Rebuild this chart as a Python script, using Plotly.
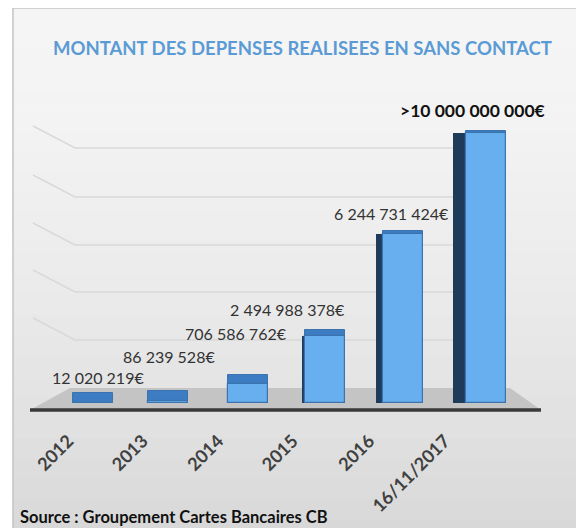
import plotly.graph_objects as go

categories = ["2012", "2013", "2014", "2015", "2016", "16/11/2017"]
values = [12020219, 86239528, 706586762, 2494988378, 6244731424, 10000000000]
labels = ["12 020 219€", "86 239 528€", "706 586 762€", "2 494 988 378€", "6 244 731 424€", ">10 000 000 000€"]

# styling (pixels)
label_xshift = [8, 0, -11, -38, -13, -10]
label_yshift = [25, 44, 50, 26, 21, 23]
label_bold = [False, False, False, False, False, True]
top_depth_px = [10, 10, 9, 6, 3, 2]
side_w_px = [0, 0, 0, 3, 7, 13]
bar_shift_px = [3, -1, 1, -1, -1, 3]
tick_shift_px = [-22, -26, -29, -33, -35, -38]

W, H = 584, 528
OFF = 8  # page body margin
L, R, T, B = 51, 522, 106, 403  # target screen coords of plot area
YMAX = 11e9
unit_px = (R - L) / 6.0
val_per_px = YMAX / (B - T)

def px(x):
    return (x - L) / (R - L)

def py(y):
    return (B - y) / (B - T)

idx = list(range(len(categories)))
front_w = 0.51
front_off = [-front_w / 2 + s / unit_px for s in bar_shift_px]

fig = go.Figure()

# dark side faces
fig.add_trace(go.Bar(
    x=idx, y=values,
    width=[s / unit_px if s else 0.001 for s in side_w_px],
    offset=[o - s / unit_px for o, s in zip(front_off, side_w_px)],
    marker=dict(color="#1f3b5c", line=dict(width=0)),
    hoverinfo="skip", showlegend=False,
))
# top faces
fig.add_trace(go.Bar(
    x=idx, y=[d * val_per_px for d in top_depth_px], base=values,
    width=front_w, offset=front_off,
    marker=dict(color="#3d7cc2", line=dict(color="#3a73ad", width=1)),
    hoverinfo="skip", showlegend=False,
))
# front faces
fig.add_trace(go.Bar(
    x=idx, y=values, width=front_w, offset=front_off,
    marker=dict(color="#68aff0", line=dict(color="#3a73ad", width=1.2)),
    showlegend=False,
))

shapes = []
# frame background with a soft vertical gradient
top_c, bot_c = (245, 245, 245), (216, 216, 216)
n_bands = 26
y_top, y_bot = 8, 540
for k in range(n_bands):
    f = (k / (n_bands - 1)) ** 1.6
    c = tuple(int(round(a + (b - a) * f)) for a, b in zip(top_c, bot_c))
    y0 = y_top + (y_bot - y_top) * k / n_bands
    y1 = y_top + (y_bot - y_top) * (k + 1) / n_bands
    shapes.append(dict(type="rect", xref="paper", yref="paper", layer="below",
                       x0=px(13), x1=px(580), y0=py(y0), y1=py(y1 + 0.5),
                       fillcolor=f"rgb{c}", line=dict(width=0)))
shapes.append(dict(type="rect", xref="paper", yref="paper", layer="below",
                   x0=px(13), x1=px(580), y0=py(8), y1=py(580),
                   fillcolor="rgba(0,0,0,0)", line=dict(color="#c4c4c4", width=1.5)))
for gy in [148, 197, 245, 292, 340]:
    shapes.append(dict(type="path", xref="paper", yref="paper", layer="below",
                       path=f"M {px(33)},{py(gy-22)} L {px(75)},{py(gy)} L {px(505)},{py(gy)}",
                       line=dict(color="#d9d9d9", width=1.5)))
shapes.append(dict(type="path", xref="paper", yref="paper", layer="below",
                   path=f"M {px(30)},{py(410)} L {px(70)},{py(388)} L {px(510)},{py(388)} L {px(541)},{py(410)} Z",
                   fillcolor="#c4c4c4", line=dict(width=0)))
shapes.append(dict(type="line", xref="paper", yref="paper", layer="below",
                   x0=px(30), x1=px(541), y0=py(410), y1=py(410),
                   line=dict(color="#3a3a3a", width=3.5)))

annotations = []
for i, (v, t) in enumerate(zip(values, labels)):
    annotations.append(dict(
        x=i, y=v, xref="x", yref="y", text=f"<b>{t}</b>" if label_bold[i] else t,
        showarrow=False, xanchor="center", yanchor="middle",
        xshift=label_xshift[i], yshift=label_yshift[i],
        font=dict(family="Lato", size=17.5 if label_bold[i] else 16,
                  color="#111111" if label_bold[i] else "#333333"),
    ))
annotations.append(dict(
    x=px(302), y=py(48), xref="paper", yref="paper",
    text="<b>MONTANT DES DEPENSES REALISEES EN SANS CONTACT</b>",
    showarrow=False, xanchor="center", yanchor="middle",
    font=dict(family="Lato", size=18.5, color="#5b9bd5"),
))
annotations.append(dict(
    x=px(18), y=py(517), xref="paper", yref="paper",
    text="<b>Source : Groupement Cartes Bancaires CB</b>",
    showarrow=False, xanchor="left", yanchor="middle",
    font=dict(family="Lato", size=16.5, color="#111111"),
))

fig.update_layout(
    width=W, height=H,
    margin=dict(l=L - OFF, r=W - (R - OFF), t=T - OFF, b=H - (B - OFF)),
    paper_bgcolor="white", plot_bgcolor="rgba(0,0,0,0)",
    barmode="overlay", bargap=0,
    shapes=shapes, annotations=annotations,
    xaxis=dict(range=[-0.5, 5.5], showgrid=False, zeroline=False, showline=False,
               tickmode="array",
               tickvals=[i + s / unit_px for i, s in enumerate(tick_shift_px)],
               ticktext=[f"<b>{c}</b>" for c in categories],
               tickangle=-45, ticks="", ticklabelstandoff=23,
               tickfont=dict(family="Lato", size=18, color="#404040")),
    yaxis=dict(range=[0, YMAX], visible=False),
)

fig.write_html("out.html")
